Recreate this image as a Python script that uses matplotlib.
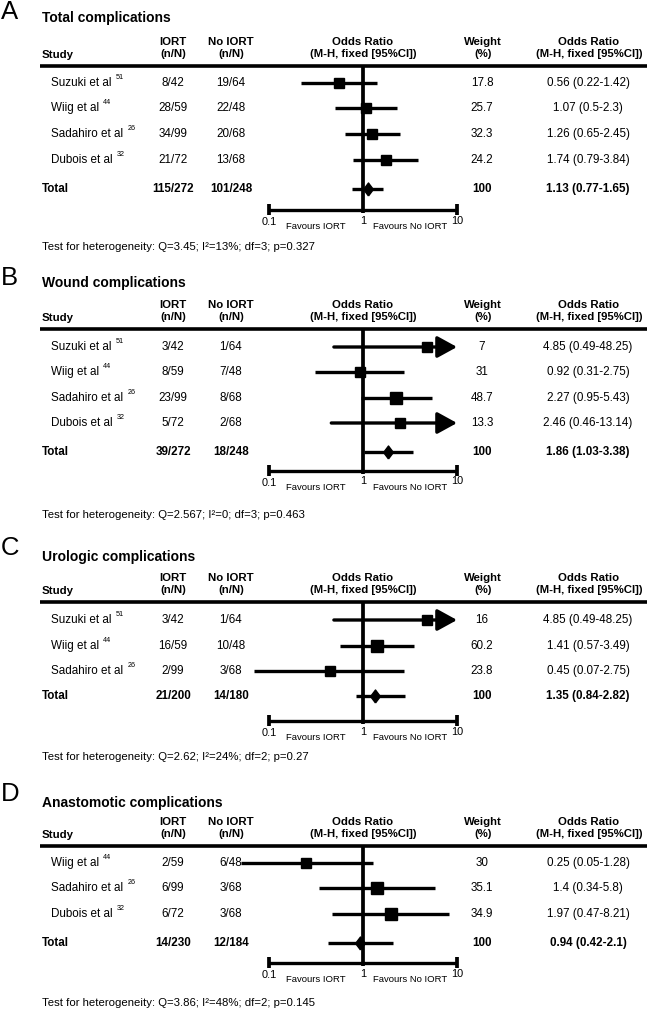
import matplotlib
matplotlib.use('Agg')
import matplotlib.pyplot as plt

plt.rcParams['font.family'] = ['Liberation Sans', 'DejaVu Sans']

# ---------------- data ----------------
letters = ['A', 'B', 'C', 'D']
titles = ['Total complications', 'Wound complications',
          'Urologic complications', 'Anastomotic complications']

a_study = ['Suzuki et al', 'Wiig et al', 'Sadahiro et al', 'Dubois et al']
a_ref = ['51', '44', '26', '32']
a_iort = ['8/42', '28/59', '34/99', '21/72']
a_noiort = ['19/64', '22/48', '20/68', '13/68']
a_weight = [17.8, 25.7, 32.3, 24.2]
a_or = [0.56, 1.07, 1.26, 1.74]
a_lo = [0.22, 0.5, 0.65, 0.79]
a_hi = [1.42, 2.3, 2.45, 3.84]
a_total = ['115/272', '101/248']
a_total_or = [1.13, 0.77, 1.65]
a_het = 'Test for heterogeneity: Q=3.45; I\u00b2=13%; df=3; p=0.327'

b_study = ['Suzuki et al', 'Wiig et al', 'Sadahiro et al', 'Dubois et al']
b_ref = ['51', '44', '26', '32']
b_iort = ['3/42', '8/59', '23/99', '5/72']
b_noiort = ['1/64', '7/48', '8/68', '2/68']
b_weight = [7, 31, 48.7, 13.3]
b_or = [4.85, 0.92, 2.27, 2.46]
b_lo = [0.49, 0.31, 0.95, 0.46]
b_hi = [48.25, 2.75, 5.43, 13.14]
b_total = ['39/272', '18/248']
b_total_or = [1.86, 1.03, 3.38]
b_het = 'Test for heterogeneity: Q=2.567; I\u00b2=0; df=3; p=0.463'

c_study = ['Suzuki et al', 'Wiig et al', 'Sadahiro et al']
c_ref = ['51', '44', '26']
c_iort = ['3/42', '16/59', '2/99']
c_noiort = ['1/64', '10/48', '3/68']
c_weight = [16, 60.2, 23.8]
c_or = [4.85, 1.41, 0.45]
c_lo = [0.49, 0.57, 0.07]
c_hi = [48.25, 3.49, 2.75]
c_total = ['21/200', '14/180']
c_total_or = [1.35, 0.84, 2.82]
c_het = 'Test for heterogeneity: Q=2.62; I\u00b2=24%; df=2; p=0.27'

d_study = ['Wiig et al', 'Sadahiro et al', 'Dubois et al']
d_ref = ['44', '26', '32']
d_iort = ['2/59', '6/99', '6/72']
d_noiort = ['6/48', '3/68', '3/68']
d_weight = [30, 35.1, 34.9]
d_or = [0.25, 1.4, 1.97]
d_lo = [0.05, 0.34, 0.47]
d_hi = [1.28, 5.8, 8.21]
d_total = ['14/230', '12/184']
d_total_or = [0.94, 0.42, 2.1]
d_het = 'Test for heterogeneity: Q=3.86; I\u00b2=48%; df=2; p=0.145'

total_weight = 100
axis_ticks = [0.1, 1, 10]
axis_ticklabels = ['0.1', '1', '10']
favours = ['Favours IORT', 'Favours No IORT']

panels = [
    dict(study=a_study, ref=a_ref, iort=a_iort, noiort=a_noiort, weight=a_weight,
         orr=a_or, lo=a_lo, hi=a_hi, total=a_total, total_or=a_total_or, het=a_het),
    dict(study=b_study, ref=b_ref, iort=b_iort, noiort=b_noiort, weight=b_weight,
         orr=b_or, lo=b_lo, hi=b_hi, total=b_total, total_or=b_total_or, het=b_het),
    dict(study=c_study, ref=c_ref, iort=c_iort, noiort=c_noiort, weight=c_weight,
         orr=c_or, lo=c_lo, hi=c_hi, total=c_total, total_or=c_total_or, het=c_het),
    dict(study=d_study, ref=d_ref, iort=d_iort, noiort=d_noiort, weight=d_weight,
         orr=d_or, lo=d_lo, hi=d_hi, total=d_total, total_or=d_total_or, het=d_het),
]

# ---------------- layout (pixels) ----------------
W, H, DPI = 647, 1013, 100
layout = [
    dict(letter=12, title=18, line=66, rows=[83, 108, 134, 160], total=189, axis=210, het=247),
    dict(letter=278, title=283, line=329, rows=[347, 372, 398, 423], total=452, axis=471, het=515),
    dict(letter=548, title=557, line=602, rows=[620, 646, 671], total=696, axis=721, het=757),
    dict(letter=794, title=803, line=846, rows=[863, 888, 914], total=943, axis=963, het=1003),
]

X_ONE, DEC = 363.0, 94.0        # pixel of OR=1, pixels per decade
FX0, FX1 = 170, 520             # forest axes horizontal extent (pixels)
X_IORT, X_NO, X_W, X_OR = 173, 231, 482, 588
X_TITLE, X_NAME = 42, 51

FS_LET, FS_TITLE, FS_HDR, FS_DATA = 18.5, 10, 8.2, 8.4
FS_HET, FS_TICK, FS_FAV, FS_SUP = 8.2, 7.9, 6.8, 5.2
LW = 2.4
K = '#000000'

fig = plt.figure(figsize=(W / DPI, H / DPI), dpi=DPI)
ax0 = fig.add_axes([0, 0, 1, 1])
ax0.set_xlim(0, W)
ax0.set_ylim(H, 0)
ax0.axis('off')


def fmt(v):
    return f'{v:g}'


def forest_axes(y0, y1):
    ax = fig.add_axes([FX0 / W, 1 - y1 / H, (FX1 - FX0) / W, (y1 - y0) / H])
    ax.set_xscale('log')
    ax.set_xlim(10 ** ((FX0 - X_ONE) / DEC), 10 ** ((FX1 - X_ONE) / DEC))
    ax.set_ylim(y1, y0)
    ax.axis('off')
    ax.patch.set_alpha(0)
    return ax


def sq_size(w):
    px = 7.5 + 0.6 * w ** 0.5
    return px * 72 / DPI


diamond = [(0, -1), (0.75, 0), (0, 1), (-0.75, 0), (0, -1)]

for letter, title, p, L in zip(letters, titles, panels, layout):
    ax0.text(1, L['letter'], letter, fontsize=FS_LET, ha='left', va='center', color=K)
    ax0.text(X_TITLE, L['title'], title, fontsize=FS_TITLE, fontweight='bold',
             ha='left', va='center', color=K)
    ln = L['line']
    # headers
    ax0.text(X_TITLE, ln - 11, 'Study', fontsize=FS_HDR, fontweight='bold', ha='left', va='center')
    for x, h1, h2 in [(X_IORT, 'IORT', '(n/N)'), (X_NO, 'No IORT', '(n/N)'),
                      (X_ONE, 'Odds Ratio', '(M-H, fixed [95%CI])'),
                      (X_W + 1, 'Weight', '(%)'),
                      (X_OR + 1, 'Odds Ratio', '(M-H, fixed [95%CI])')]:
        ax0.text(x, ln - 24, h1, fontsize=FS_HDR, fontweight='bold', ha='center', va='center')
        ax0.text(x, ln - 12, h2, fontsize=FS_HDR, fontweight='bold', ha='center', va='center')
    ax0.plot([40, W], [ln, ln], color=K, lw=LW + 0.2, solid_capstyle='butt')

    # study rows (text)
    for y, name, ref, a, b, w, o, lo, hi in zip(L['rows'], p['study'], p['ref'], p['iort'],
                                                p['noiort'], p['weight'], p['orr'], p['lo'], p['hi']):
        t = ax0.text(X_NAME, y, name, fontsize=FS_DATA, ha='left', va='center')
        ax0.annotate(ref, xy=(1, 0.7), xycoords=t, xytext=(3, 0), textcoords='offset points',
                     fontsize=FS_SUP, ha='left', va='bottom')
        ax0.text(X_IORT, y, a, fontsize=FS_DATA, ha='center', va='center')
        ax0.text(X_NO, y, b, fontsize=FS_DATA, ha='center', va='center')
        ax0.text(X_W, y, fmt(w), fontsize=FS_DATA, ha='center', va='center')
        ax0.text(X_OR, y, f'{fmt(o)} ({fmt(lo)}-{fmt(hi)})', fontsize=FS_DATA,
                 ha='center', va='center')
    ty = L['total']
    to, tlo, thi = p['total_or']
    ax0.text(X_TITLE, ty, 'Total', fontsize=FS_DATA, fontweight='bold', ha='left', va='center')
    ax0.text(X_IORT, ty, p['total'][0], fontsize=FS_DATA, fontweight='bold', ha='center', va='center')
    ax0.text(X_NO, ty, p['total'][1], fontsize=FS_DATA, fontweight='bold', ha='center', va='center')
    ax0.text(X_W, ty, fmt(total_weight), fontsize=FS_DATA, fontweight='bold', ha='center', va='center')
    ax0.text(X_OR, ty, f'{fmt(to)} ({fmt(tlo)}-{fmt(thi)})', fontsize=FS_DATA,
             fontweight='bold', ha='center', va='center')
    ax0.text(X_TITLE, L['het'], p['het'], fontsize=FS_HET, ha='left', va='center')

    # forest plot
    axis_y = L['axis']
    ax = forest_axes(ln - 2, axis_y + 30)
    ax.plot([1, 1], [ln, axis_y + 3], color=K, lw=LW + 0.3, solid_capstyle='butt')
    ax.plot([axis_ticks[0], axis_ticks[-1]], [axis_y, axis_y], color=K, lw=LW,
            solid_capstyle='butt')
    for tx in (axis_ticks[0], axis_ticks[-1]):
        ax.plot([tx, tx], [axis_y - 6, axis_y + 5], color=K, lw=LW + 0.3, solid_capstyle='butt')
    for tx, tl in zip(axis_ticks, axis_ticklabels):
        dy = 12 if tl == '0.1' else 10.5
        ax.text(tx, axis_y + dy, tl, fontsize=FS_TICK, ha='center', va='center', clip_on=False)
    ax.text((axis_ticks[0] * axis_ticks[1]) ** 0.5, axis_y + 16.5, favours[0], fontsize=FS_FAV,
            ha='center', va='center')
    ax.text((axis_ticks[1] * axis_ticks[2]) ** 0.5, axis_y + 16.5, favours[1], fontsize=FS_FAV,
            ha='center', va='center')

    xmax = axis_ticks[-1]
    for y, w, o, lo, hi in zip(L['rows'], p['weight'], p['orr'], p['lo'], p['hi']):
        if hi > xmax:
            ax.annotate('', xy=(xmax, y), xytext=(lo, y),
                        arrowprops=dict(arrowstyle='-|>,head_length=1.0,head_width=0.55',
                                        mutation_scale=12, lw=LW, color=K,
                                        shrinkA=0, shrinkB=0))
        else:
            ax.plot([lo, hi], [y, y], color=K, lw=LW, solid_capstyle='butt', clip_on=False)
        ax.plot([o], [y], marker='s', ms=sq_size(w), color=K, mec=K, clip_on=False)
    ax.plot([tlo, thi], [ty, ty], color=K, lw=LW, solid_capstyle='butt')
    ax.plot([to], [ty], marker=diamond, ms=13 * 72 / DPI, color=K, mec=K)

fig.savefig('out.png', dpi=DPI, facecolor='white')
